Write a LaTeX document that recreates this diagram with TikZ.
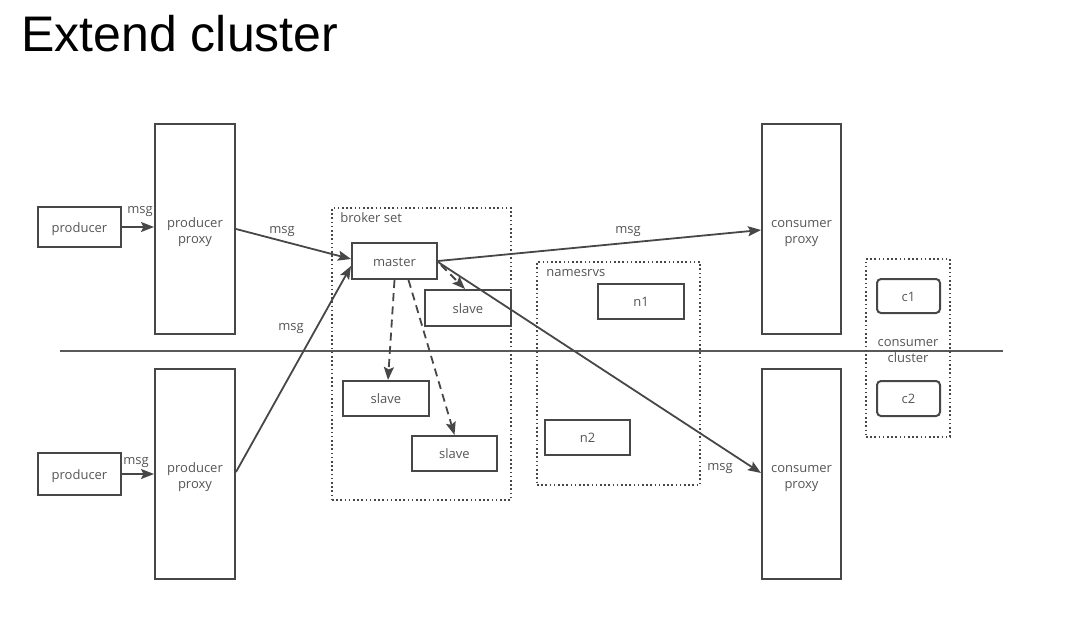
\documentclass[tikz,border=0pt]{standalone}
\usepackage{fontspec}
\setmainfont{Open Sans}
\newfontfamily\titlefont{Liberation Sans}
\usetikzlibrary{arrows.meta,calc}
\definecolor{ln}{HTML}{474747}
\definecolor{tx}{HTML}{555555}
\begin{document}
\begin{tikzpicture}[x=0.5pt,y=-0.5pt,
  every node/.style={font=\fontsize{6.5pt}{8pt}\selectfont, text=tx, inner sep=0pt, align=center,
    text height=6.1pt, text depth=0.8pt},
  two/.style={text height=14.9pt, text depth=0.8pt},
  sz/.style 2 args={minimum width=#1*0.5pt, minimum height=#2*0.5pt},
  box/.style={draw=ln, line width=1pt},
  rbox/.style={draw=ln, line width=1pt, rounded corners=2pt},
  dotbox/.style={draw=ln, line width=0.9pt, dash pattern=on 0.8pt off 1.3pt},
  arr/.style={draw=ln, line width=0.9pt, -{Stealth[length=6.5pt,width=5pt,inset=1.2pt]}},
  darr/.style={arr, dash pattern=on 4pt off 2.6pt}
]
\useasboundingbox (0,0) rectangle (1080,621);
\node[anchor=base west, font=\titlefont\fontsize{25pt}{28pt}\selectfont, text=black] (title) at (21,51.5) {Extend cluster};

% separator
\coordinate (hl) at (60,351);
\coordinate (hr) at (1003,351);
\draw[draw=ln!90, line width=1pt] (hl) -- (hr);

% dotted groups
\node[dotbox, sz={179}{292}] (bset) at (421.5,354) {};
\node[anchor=north west] (bsetl) at (340,210) {broker set};
\node[dotbox, sz={163}{223}] (nsrv) at (618.5,373.5) {};
\node[anchor=north west] (nsrvl) at (546,264) {namesrvs};
\node[dotbox, sz={84}{178}] (ccl) at (908,348) {};
\node[two] (ccll) at (908,348) {consumer\\cluster};

% producers
\node[box, sz={83}{40}] (p1) at (79.5,227) {producer};
\node[box, sz={83}{42}] (p2) at (79.5,474) {producer};
\node[box, two, sz={80}{210}] (pp1) at (195,229) {producer\\proxy};
\node[box, two, sz={80}{210}] (pp2) at (195,474) {producer\\proxy};

% broker
\node[box, sz={85}{36}] (master) at (394.5,261) {master};
\node[box, fill=white, sz={86}{36}] (s1) at (468,308) {slave};
\node[box, sz={86}{35}] (s2) at (386,398.5) {slave};
\node[box, sz={85}{35}] (s3) at (454.5,453.5) {slave};

% namesrvs
\node[box, sz={86}{35}] (n1) at (641,301.5) {n1};
\node[box, sz={85}{35}] (n2) at (587.5,437.5) {n2};

% consumers
\node[box, two, sz={79}{210}] (cp1) at (801.5,229) {consumer\\proxy};
\node[box, two, sz={79}{210}] (cp2) at (801.5,474) {consumer\\proxy};
\node[rbox, sz={63}{34}] (c1) at (908.5,296) {c1};
\node[rbox, sz={63}{35}] (c2) at (908.5,398.5) {c2};

% arrows
\draw[arr] (p1.east) -- (pp1.west |- p1.east);
\node (m1) at (140,208) {msg};
\draw[arr] (p2.east) -- (pp2.west |- p2.east);
\node (m2) at (136,459) {msg};
\draw[arr] (pp1.east) -- ([yshift=1pt]master.west);
\node (m3) at (282,228) {msg};
\draw[arr] ([yshift=1pt]pp2.east) -- ([yshift=-2.5pt]master.west);
\node (m4) at (291,325) {msg};
\draw[arr] (master.east) -- ([yshift=-0.5pt]cp1.west);
\node (m5) at (628,228) {msg};
\draw[arr] ([yshift=-0.5pt]master.east) -- ([yshift=0.5pt]cp2.west);
\node (m6) at (720,465) {msg};

\draw[darr] ($(master.east)+(3,4)$) -- ([xshift=-1.5pt]s1.north);
\draw[darr] (master.south) -- ([xshift=1pt]s2.north);
\draw[darr] ([xshift=7pt]master.south) -- (s3.north);
\end{tikzpicture}
\end{document}
